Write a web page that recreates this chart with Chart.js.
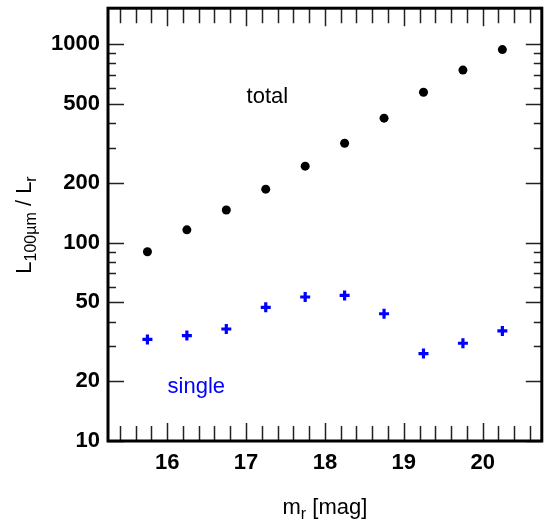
<!DOCTYPE html>
<html>
<head>
<meta charset="utf-8">
<script src="https://cdn.jsdelivr.net/npm/chart.js@4/dist/chart.umd.min.js"></script>
<style>
html,body{margin:0;padding:0;background:#fff;}
#wrap{width:550px;height:520px;}
</style>
</head>
<body>
<div id="wrap"><canvas id="c" width="550" height="520"></canvas></div>
<script>
// ---- data ----
const magnitudes = [15.75, 16.25, 16.75, 17.25, 17.75, 18.25, 18.75, 19.25, 19.75, 20.25];
const totalRatio = [90, 116, 146, 186, 243, 317, 424, 573, 741, 940];
const singleRatio = [32.5, 34.0, 36.7, 47.2, 53.2, 54.2, 43.8, 27.6, 31.1, 35.9];
const xTickLabels = [16, 17, 18, 19, 20];
const yTickLabels = [10, 20, 50, 100, 200, 500, 1000];
const xMinorTicks = [15.4,15.6,15.8,16.2,16.4,16.6,16.8,17.2,17.4,17.6,17.8,18.2,18.4,18.6,18.8,19.2,19.4,19.6,19.8,20.2,20.4,20.6];
const yMinorTicks = [30,40,60,70,80,90,300,400,600,700,800,900];
const labelTotal = {text: 'total', x: 17.27, y: 545};
const labelSingle = {text: 'single', x: 16.37, y: 18.7};

const FONT = '"Liberation Sans", Arial, Helvetica, sans-serif';

const framePlugin = {
  id: 'frame',
  afterDraw(chart) {
    const ctx = chart.ctx;
    const a = chart.chartArea;
    const xs = chart.scales.x, ys = chart.scales.y;
    ctx.save();
    // ticks
    ctx.strokeStyle = '#222';
    ctx.lineWidth = 1.5;
    ctx.beginPath();
    const xt = (v, len) => {
      const px = Math.round(xs.getPixelForValue(v)) + 0.5;
      ctx.moveTo(px, a.bottom); ctx.lineTo(px, a.bottom - len);
      ctx.moveTo(px, a.top); ctx.lineTo(px, a.top + len);
    };
    xTickLabels.forEach(v => xt(v, 18));
    xMinorTicks.forEach(v => xt(v, 15));
    const yt = (v, len) => {
      const py = Math.round(ys.getPixelForValue(v)) + 0.5;
      ctx.moveTo(a.left, py); ctx.lineTo(a.left + len, py);
      ctx.moveTo(a.right, py); ctx.lineTo(a.right - len, py);
    };
    yTickLabels.forEach(v => yt(v, 16));
    yMinorTicks.forEach(v => yt(v, 8));
    ctx.stroke();
    // frame
    ctx.strokeStyle = '#000';
    ctx.lineWidth = 3;
    ctx.strokeRect(a.left, a.top, a.right - a.left, a.bottom - a.top);

    // annotations
    ctx.textBaseline = 'middle';
    ctx.textAlign = 'center';
    ctx.font = '22px ' + FONT;
    ctx.fillStyle = '#000';
    ctx.fillText(labelTotal.text, xs.getPixelForValue(labelTotal.x), ys.getPixelForValue(labelTotal.y));
    ctx.fillStyle = '#0000ff';
    ctx.fillText(labelSingle.text, xs.getPixelForValue(labelSingle.x), ys.getPixelForValue(labelSingle.y));

    // axis titles with subscripts
    const drawSub = (parts, cx, cy) => {
      let w = 0;
      parts.forEach(p => { ctx.font = (p.sub ? '16px ' : '22px ') + FONT; w += ctx.measureText(p.t).width; });
      let x = cx - w / 2;
      ctx.textAlign = 'left';
      ctx.textBaseline = 'alphabetic';
      parts.forEach(p => {
        ctx.font = (p.sub ? '16px ' : '22px ') + FONT;
        ctx.fillText(p.t, x, cy + (p.sub ? 5 : 0));
        x += ctx.measureText(p.t).width;
      });
    };
    ctx.fillStyle = '#000';
    drawSub([{t:'m'},{t:'r',sub:true},{t:' [mag]'}], (a.left + a.right) / 2, 514);
    ctx.save();
    ctx.translate(31, 225);
    ctx.rotate(-Math.PI / 2);
    drawSub([{t:'L'},{t:'100µm',sub:true},{t:' / L'},{t:'r',sub:true}], 0, 0);
    ctx.restore();
    ctx.restore();
  }
};

new Chart(document.getElementById('c'), {
  type: 'scatter',
  data: {
    datasets: [
      {
        label: 'total',
        data: magnitudes.map((m, i) => ({x: m, y: totalRatio[i]})),
        pointStyle: 'circle',
        pointRadius: 4.5,
        backgroundColor: '#000',
        borderColor: '#000',
        borderWidth: 0
      },
      {
        label: 'single',
        data: magnitudes.map((m, i) => ({x: m, y: singleRatio[i]})),
        pointStyle: 'cross',
        pointRadius: 5,
        backgroundColor: '#0000ff',
        borderColor: '#0000ff',
        borderWidth: 3.2
      }
    ]
  },
  options: {
    responsive: false,
    animation: false,
    devicePixelRatio: 1,
    layout: {padding: {top: 6, right: 8, left: 0, bottom: 0}},
    plugins: {legend: {display: false}, tooltip: {enabled: false}},
    scales: {
      x: {
        type: 'linear',
        min: 15.25, max: 20.75,
        grid: {display: false, drawTicks: false, tickLength: 0},
        border: {display: false},
        afterBuildTicks: s => { s.ticks = xTickLabels.map(v => ({value: v})); },
        afterFit: s => { s.height = 79; s.paddingLeft = 0; s.paddingRight = 0; },
        ticks: {
          padding: 9,
          color: '#000',
          font: {family: FONT, size: 22, weight: 'bold'},
          callback: v => String(v)
        }
      },
      y: {
        type: 'logarithmic',
        min: 10, max: 1520,
        grid: {display: false, drawTicks: false, tickLength: 0},
        border: {display: false},
        afterBuildTicks: s => { s.ticks = yTickLabels.map(v => ({value: v})); },
        afterFit: s => { s.width = 108; s.paddingTop = 0; s.paddingBottom = 0; },
        ticks: {
          padding: 8,
          color: '#000',
          font: {family: FONT, size: 22, weight: 'bold'},
          callback: v => String(v)
        }
      }
    }
  },
  plugins: [framePlugin]
});
</script>
</body>
</html>
